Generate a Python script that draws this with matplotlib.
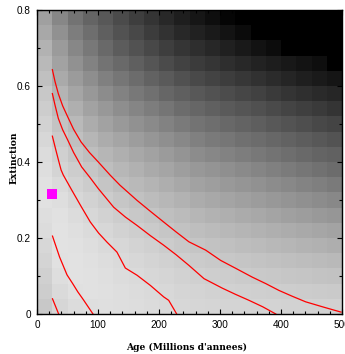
import numpy as np
import matplotlib
matplotlib.use("Agg")
import matplotlib.pyplot as plt
from matplotlib.ticker import MultipleLocator

# ---- data ----
age_edges = np.arange(0, 525, 25)            # Millions d'annees (cell edges)
ext_edges = np.round(np.arange(0, 0.84, 0.04), 2)  # Extinction (cell edges)

# gray level of each cell (0 = black, 255 = white), rows listed from TOP (0.76-0.80) to BOTTOM (0-0.04)
gray_top_to_bottom = [
    [160,135,115,100, 88, 75, 62, 52, 40, 30, 22, 14,  5,  0,  0,  0,  0,  0,  0,  0],
    [168,145,125,110, 95, 82, 72, 60, 50, 40, 33, 26, 19, 11,  0,  0,  0,  0,  0,  0],
    [178,155,135,120,105, 92, 82, 72, 62, 53, 46, 39, 32, 25, 18, 12,  0,  0,  0,  0],
    [185,162,145,130,115,105, 95, 85, 75, 66, 59, 53, 46, 40, 34, 29, 24, 19, 14,  0],
    [192,170,155,142,128,118,108, 98, 90, 81, 73, 67, 61, 55, 49, 43, 37, 31, 26, 21],
    [200,180,165,152,140,130,120,112,102, 95, 88, 82, 76, 70, 65, 58, 52, 47, 42, 38],
    [205,188,175,162,152,142,133,125,117,108,102, 96, 90, 85, 80, 74, 68, 63, 58, 52],
    [210,195,185,172,162,153,145,138,130,122,115,110,104, 99, 94, 88, 83, 78, 72, 68],
    [215,202,192,182,172,165,157,150,143,136,128,122,118,112,108,103, 98, 93, 88, 83],
    [220,208,198,190,182,175,168,162,155,148,140,135,130,125,120,115,110,105,100, 97],
    [222,212,205,198,190,183,177,170,165,158,152,148,143,138,133,128,123,118,113,108],
    [225,218,210,204,197,190,185,180,174,168,162,158,153,149,145,140,136,131,127,122],
    [225,222,215,210,204,198,193,188,183,178,172,168,164,160,156,152,148,144,140,136],
    [222,225,220,215,210,205,200,196,191,187,182,178,175,171,168,164,160,157,153,150],
    [220,226,223,219,215,210,206,202,198,194,190,187,184,181,178,175,172,169,166,163],
    [215,226,225,222,218,215,211,208,204,200,197,194,192,189,187,184,182,179,177,174],
    [212,225,226,224,221,218,215,212,209,206,203,201,199,197,195,193,191,189,187,185],
    [208,222,226,225,223,220,218,215,213,210,208,206,205,203,201,200,198,197,195,194],
    [205,218,224,225,224,222,220,218,216,213,212,210,209,208,207,206,205,204,203,202],
    [200,214,220,222,223,222,221,219,217,215,214,213,212,212,211,211,210,210,209,209],
]

# red contour lines (age, extinction)
c1_age = [25.4, 35.5]
c1_ext = [0.040, 0.0]
c2_age = [25.4, 37.0, 49.2, 58.5, 67.0, 75.4, 91.8]
c2_ext = [0.205, 0.150, 0.103, 0.080, 0.058, 0.039, 0.0]
c3_age = [25.2, 31.0, 36.0, 39.5, 43.0, 57.0, 72.0, 87.4, 101.0, 114.8, 131.0, 144.8, 164.0, 186.0, 207.7, 215.9, 229.0]
c3_ext = [0.468, 0.431, 0.400, 0.379, 0.366, 0.326, 0.284, 0.242, 0.213, 0.189, 0.163, 0.121, 0.102, 0.075, 0.045, 0.036, 0.0]
c4_age = [25.2, 29.5, 34.9, 42.0, 50.3, 60.0, 73.2, 87.4, 100.5, 125.7, 145.0, 164.0, 186.0, 207.7, 228.0, 249.0, 273.8, 303.8, 325.0, 347.5, 370.0, 391.5]
c4_ext = [0.580, 0.550, 0.515, 0.485, 0.458, 0.425, 0.387, 0.358, 0.330, 0.281, 0.255, 0.233, 0.206, 0.181, 0.156, 0.128, 0.093, 0.068, 0.052, 0.036, 0.019, 0.0]
c5_age = [25.2, 29.5, 34.9, 42.0, 50.3, 60.0, 72.1, 86.0, 100.5, 120.2, 136.0, 164.0, 186.0, 207.7, 228.0, 249.0, 276.6, 301.1, 326.0, 352.9, 375.0, 396.7, 418.0, 440.5, 470.0, 498.4]
c5_ext = [0.643, 0.612, 0.580, 0.548, 0.519, 0.486, 0.453, 0.425, 0.400, 0.365, 0.339, 0.299, 0.270, 0.242, 0.216, 0.190, 0.168, 0.141, 0.120, 0.097, 0.080, 0.062, 0.047, 0.032, 0.018, 0.005]

marker_age = [24.6]
marker_ext = [0.316]

xticks = [0, 100, 200, 300, 400, 500]
yticks = [0, 0.2, 0.4, 0.6, 0.8]
yticklabels = ["0", "0.2", "0.4", "0.6", "0.8"]

# ---- figure ----
W, H = 345, 354
fig = plt.figure(figsize=(W / 100, H / 100), dpi=100)
ax = fig.add_axes([37 / W, (H - 314) / H, (342 - 37) / W, (314 - 10) / H])

gray = np.flipud(np.array(gray_top_to_bottom, dtype=float))
ax.pcolormesh(age_edges, ext_edges, gray, cmap="gray", vmin=0, vmax=255,
              shading="flat", edgecolors="none", antialiased=False)

for xa, ya in [(c1_age, c1_ext), (c2_age, c2_ext), (c3_age, c3_ext),
               (c4_age, c4_ext), (c5_age, c5_ext)]:
    ax.plot(xa, ya, color="#ff0000", lw=0.9, solid_joinstyle="round")

ax.plot(marker_age, marker_ext, "s", color="#ff00ff", markersize=7.2,
        markeredgewidth=0)

ax.set_xlim(0, 500)
ax.set_ylim(0, 0.8)
ax.set_xticks(xticks)
ax.set_xticklabels([str(t) for t in xticks])
ax.set_yticks(yticks)
ax.set_yticklabels(yticklabels)
ax.xaxis.set_minor_locator(MultipleLocator(20))
ax.yaxis.set_minor_locator(MultipleLocator(0.1))
ax.tick_params(which="both", direction="in", top=True, right=True, color="black")
ax.tick_params(which="major", length=3.5, width=0.8, labelsize=7.2, pad=4.5)
ax.tick_params(which="minor", length=2.0, width=0.8)
for lab in ax.get_xticklabels() + ax.get_yticklabels():
    lab.set_fontfamily("Liberation Sans")
for s in ax.spines.values():
    s.set_linewidth(1.0)
    s.set_color("black")

fig.text(187 / W, 1 - 347 / H, "Age (Millions d'annees)", ha="center", va="center",
         fontsize=6.6, fontweight="bold", family="DejaVu Serif")
fig.text(14 / W, 1 - 158 / H, "Extinction", ha="center", va="center", rotation=90,
         fontsize=6.6, fontweight="bold", family="DejaVu Serif")

fig.savefig("out.png", dpi=100)
